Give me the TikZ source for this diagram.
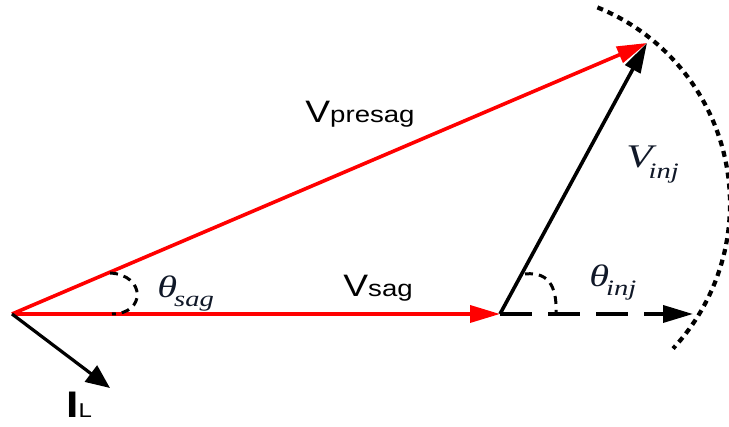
\documentclass[tikz,border=0pt]{standalone}
\usepackage{fontspec}
\setmainfont{Liberation Serif}
\setsansfont{Liberation Sans}
\newfontfamily\vecfont[FakeStretch=1.2]{Liberation Sans}
\newfontfamily\angfont[FakeStretch=1.3]{Liberation Serif}
\usetikzlibrary{arrows.meta}
\definecolor{cVolt}{HTML}{FF0000}
\definecolor{cLabel}{HTML}{101828}

\begin{document}
\begin{tikzpicture}[x=0.5pt, y=0.5pt,
    phasor/.style={line width=1.8pt, -{Triangle[length=15pt, width=8.5pt]}},
    anglemark/.style={line width=1.5pt, dash pattern=on 4pt off 3pt},
    lbl/.style={anchor=base west, inner sep=0pt, font=\vecfont},
    anglbl/.style={anchor=base west, inner sep=0pt, text=cLabel, font=\angfont\itshape}]
\useasboundingbox (0,0) rectangle (729,427);

% Phasor end points
\coordinate (O) at (12,113);
\coordinate (S) at (500,113);
\coordinate (P) at (647,384);
\coordinate (D) at (693,113);
\coordinate (I) at (110,39);

% Voltage phasors
\draw[phasor, cVolt] (O) -- (P);
\draw[phasor, cVolt] (O) -- (S);
\draw[phasor, black] (S) -- (P);
\draw[black, line width=1.8pt, dash pattern=on 16pt off 8pt, -{Triangle[length=15pt, width=8.5pt]}] (S) -- (D);

% Load current
\draw[black, line width=1.6pt, -{Triangle[length=12pt, width=10pt]}] (O) -- (I);

% Angle marks
\draw[anglemark] (110,154) .. controls (146,152) and (146,113) .. (112,113);
\draw[anglemark] (525,153) .. controls (552,156) and (557,135) .. (556,113);

% Locus of the injected voltage
\draw[line width=2.1pt, dash pattern=on 3pt off 2.5pt] (518,223) ++(68:212) arc[start angle=68, end angle=-43, radius=212];

% Labels
\node[lbl] (presag) at (305,304) {{\fontsize{15.5}{16}\selectfont V}{\fontsize{11.5}{12}\selectfont presag}};
\node[lbl] (sag) at (343,130) {{\fontsize{15.5}{16}\selectfont V}{\fontsize{11.5}{12}\selectfont sag}};
\node[lbl] (il) at (66,9) {{\fontsize{18.5}{19}\selectfont\bfseries I}{\fontsize{10}{10}\selectfont L}};
\node[anglbl] (thsag) at (157,129) {{\fontsize{15.5}{16}\selectfont θ}\kern-1.5pt\raisebox{-4.5pt}{\fontsize{11}{12}\selectfont sag}};
\node[anglbl] (thinj) at (589,140) {{\fontsize{15.5}{16}\selectfont θ}\kern-1.5pt\raisebox{-4.5pt}{\fontsize{11}{12}\selectfont inj}};
\node[anglbl] (vinj) at (626,259) {{\fontsize{16.5}{17}\selectfont V}\kern-2pt\raisebox{-5.5pt}{\fontsize{11}{12}\selectfont inj}};

\end{tikzpicture}
\end{document}
